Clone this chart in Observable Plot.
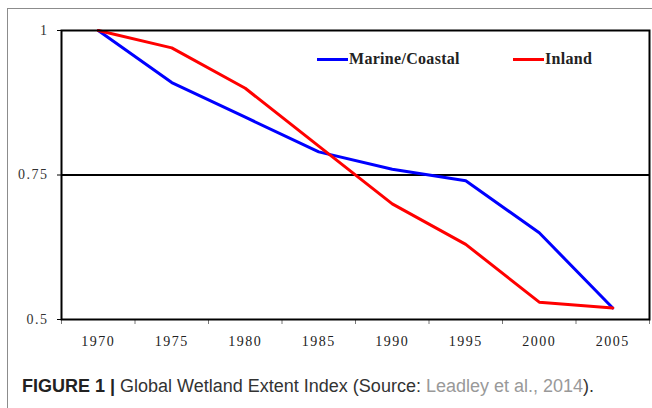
<!DOCTYPE html>
<html>
<head>
<meta charset="utf-8">
<script src="https://cdn.jsdelivr.net/npm/d3@7"></script>
<script src="https://cdn.jsdelivr.net/npm/@observablehq/plot@0.6"></script>
<style>
  html, body { margin: 0; padding: 0; background: #fff; }
  #wrap { position: relative; width: 652px; height: 408px; overflow: hidden; }
  #frame { position: absolute; left: 7px; top: 8px; width: 700px; height: 450px;
           border-left: 1px solid #8c8c8c; border-top: 1px solid #8c8c8c; }
  #chart { position: absolute; left: 0; top: 0; }
  #chart svg text { letter-spacing: 1.5px; }
  .leg { position: absolute; top: 50px; font-family: "Liberation Serif", serif; font-weight: bold;
         font-size: 16px; letter-spacing: 0.3px; color: #222; display: flex; align-items: center; white-space: nowrap; }
  .sw { display: inline-block; width: 31px; height: 3px; margin-right: 1px; }
  #caption { position: absolute; left: 22px; top: 376px; font-family: "Liberation Sans", Arial, sans-serif;
             font-size: 18px; color: #333; white-space: nowrap; }
  #caption b { color: #222; }
  #caption .src { color: #999; }
</style>
</head>
<body>
<div id="wrap">
  <div id="frame"></div>
  <div id="chart"></div>
  <div class="leg" style="left:317px"><span class="sw" style="background:#0000ff"></span>Marine/Coastal</div>
  <div class="leg" style="left:513px"><span class="sw" style="background:#ff0000"></span>Inland</div>
  <div id="caption"><b>FIGURE 1 |</b> Global Wetland Extent Index (Source: <span class="src">Leadley et al., 2014</span>).</div>
</div>
<script>
const years = [1970, 1975, 1980, 1985, 1990, 1995, 2000, 2005];
const marine = [1.0, 0.91, 0.85, 0.79, 0.76, 0.74, 0.65, 0.52];
const inland = [1.0, 0.97, 0.90, 0.80, 0.70, 0.63, 0.53, 0.52];
const yTicks = [0.5, 0.75, 1];
const seriesNames = ["Marine/Coastal", "Inland"];
const seriesColors = ["#0000ff", "#ff0000"];

const rows = [
  ...years.map((year, i) => ({year, value: marine[i], series: seriesNames[0]})),
  ...years.map((year, i) => ({year, value: inland[i], series: seriesNames[1]}))
];
const half = (years[1] - years[0]) / 2;
const xDomain = [years[0] - half, years[years.length - 1] + half];
const bounds = [...years.map(y => y - half), years[years.length - 1] + half];

const chart = Plot.plot({
  width: 652,
  height: 360,
  marginLeft: 61,
  marginRight: 3,
  marginTop: 30,
  marginBottom: 41,
  style: {fontFamily: "'Liberation Serif', serif", fontSize: "14px", color: "#222", background: "transparent"},
  x: {type: "linear", domain: xDomain},
  y: {domain: [0.5, 1]},
  color: {domain: seriesNames, range: seriesColors},
  marks: [
    Plot.axisX({ticks: bounds, tickSize: 5, tickFormat: () => "", stroke: "#777", label: null}),
    Plot.axisX({ticks: years, tickSize: 0, tickPadding: 17, tickFormat: d => String(d),
                fill: "#222", fontSize: 14, label: null}),
    Plot.axisY({ticks: yTicks, tickSize: 4, tickPadding: 9, tickFormat: d => String(d),
                fill: "#333", stroke: "#000", label: null, fontSize: 14}),
    Plot.ruleY([0.75], {stroke: "#000", strokeWidth: 2}),
    Plot.line(rows, {x: "year", y: "value", z: "series", stroke: "series", strokeWidth: 3}),
    Plot.frame({stroke: "#000", strokeWidth: 2})
  ]
});
document.getElementById("chart").appendChild(chart);
</script>
</body>
</html>
